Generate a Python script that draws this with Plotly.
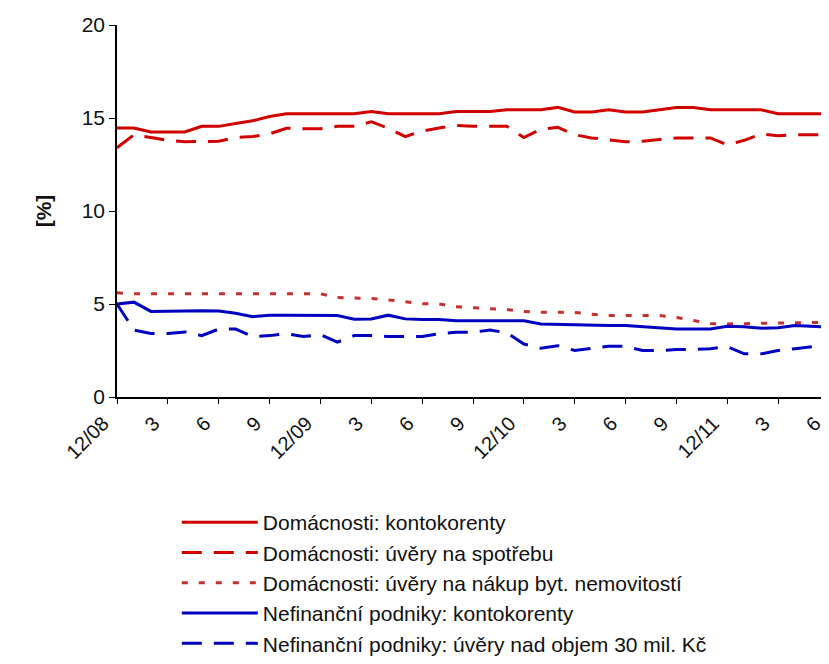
import plotly.graph_objects as go

# Monthly categories 12/08 .. 6/12
months = ["12/08"] + [f"{m}/09" for m in range(1, 13)] + [f"{m}/10" for m in range(1, 13)] \
         + [f"{m}/11" for m in range(1, 13)] + [f"{m}/12" for m in range(1, 7)]

tick_vals = ["12/08", "3/09", "6/09", "9/09", "12/09", "3/10", "6/10", "9/10",
             "12/10", "3/11", "6/11", "9/11", "12/11", "3/12", "6/12"]
tick_text = ["12/08", "3", "6", "9", "12/09", "3", "6", "9",
             "12/10", "3", "6", "9", "12/11", "3", "6"]

dom_kontokorenty = [14.46, 14.46, 14.25, 14.25, 14.25, 14.55, 14.55, 14.7, 14.85, 15.08,
                    15.23, 15.23, 15.23, 15.23, 15.23, 15.35, 15.23, 15.23, 15.23, 15.23,
                    15.35, 15.35, 15.35, 15.44, 15.44, 15.44, 15.57, 15.32, 15.32, 15.44,
                    15.32, 15.32, 15.44, 15.57, 15.57, 15.44, 15.44, 15.44, 15.44, 15.23,
                    15.23, 15.23, 15.23]

dom_spotreba = [13.4, 14.1, 13.95, 13.8, 13.72, 13.72, 13.75, 13.95, 14.0, 14.15,
                14.45, 14.42, 14.42, 14.55, 14.55, 14.8, 14.45, 14.0, 14.3, 14.46,
                14.6, 14.55, 14.55, 14.55, 13.95, 14.4, 14.5, 14.1, 13.93, 13.83,
                13.72, 13.75, 13.83, 13.93, 13.93, 13.93, 13.55, 13.8, 14.14, 14.05,
                14.1, 14.1, 14.1]

dom_bydleni = [5.6, 5.55, 5.55, 5.55, 5.55, 5.55, 5.55, 5.55, 5.55, 5.55,
               5.55, 5.55, 5.55, 5.35, 5.33, 5.3, 5.22, 5.1, 5.02, 5.0,
               4.85, 4.8, 4.75, 4.7, 4.6, 4.55, 4.55, 4.55, 4.45, 4.38,
               4.38, 4.4, 4.38, 4.28, 4.1, 3.95, 3.93, 3.95, 3.97, 4.0,
               4.02, 4.02, 4.02]

nfp_kontokorenty = [5.0, 5.1, 4.6, 4.62, 4.64, 4.64, 4.62, 4.5, 4.32, 4.4,
                    4.4, 4.4, 4.4, 4.38, 4.18, 4.2, 4.4, 4.2, 4.16, 4.16,
                    4.1, 4.1, 4.1, 4.1, 4.1, 3.92, 3.9, 3.85, 3.84, 3.84,
                    3.84, 3.78, 3.72, 3.66, 3.66, 3.66, 3.8, 3.78, 3.7, 3.72,
                    3.84, 3.78, 3.75]

nfp_nad30 = [5.0, 3.6, 3.42, 3.42, 3.5, 3.3, 3.65, 3.65, 3.25, 3.3,
             3.4, 3.25, 3.35, 2.95, 3.3, 3.3, 3.25, 3.25, 3.25, 3.4,
             3.48, 3.48, 3.6, 3.45, 2.85, 2.62, 2.76, 2.5, 2.6, 2.73,
             2.72, 2.5, 2.5, 2.55, 2.55, 2.6, 2.7, 2.32, 2.32, 2.5,
             2.6, 2.7, 2.8]

series_names = [
    "Domácnosti: kontokorenty",
    "Domácnosti: úvěry na spotřebu",
    "Domácnosti: úvěry na nákup byt. nemovitostí",
    "Nefinanční podniky: kontokorenty",
    "Nefinanční podniky: úvěry nad objem 30 mil. Kč",
]
series_values = [dom_kontokorenty, dom_spotreba, dom_bydleni, nfp_kontokorenty, nfp_nad30]

RED = "#D00000"
BLUE = "#0000C0"
styles = [
    dict(color=RED, width=3, dash="solid"),
    dict(color=RED, width=3, dash="20px,12px"),
    dict(color="#C83030", width=3, dash="6px,11px"),
    dict(color=BLUE, width=3, dash="solid"),
    dict(color=BLUE, width=3, dash="20px,12px"),
]

fig = go.Figure()
for name, vals, st in zip(series_names, series_values, styles):
    fig.add_trace(go.Scatter(x=months, y=vals, mode="lines", name=name, line=st))

FONT = "Liberation Sans, Arial, sans-serif"
FS = 21

fig.update_layout(
    width=821, height=656,
    paper_bgcolor="white", plot_bgcolor="white",
    margin=dict(l=109, r=0, t=17, b=266),
    font=dict(family=FONT, size=FS, color="#111111"),
    showlegend=True,
    legend=dict(
        x=0.084, y=-0.281, xanchor="left", yanchor="top",
        font=dict(family=FONT, size=FS, color="#111111"),
        bgcolor="rgba(0,0,0,0)", traceorder="normal", itemwidth=76,
    ),
    xaxis=dict(
        type="category", categoryorder="array", categoryarray=months,
        range=[0, 42], tickmode="array", tickvals=tick_vals, ticktext=tick_text,
        tickangle=-45, showline=True, linecolor="black", linewidth=1.5,
        ticks="outside", ticklen=5, tickcolor="black", showgrid=False, zeroline=False,
        ticklabelshift=-14,
        tickfont=dict(family=FONT, size=20, color="#111111"),
    ),
    yaxis=dict(
        range=[0, 20], tickvals=[0, 5, 10, 15, 20], showline=True, linecolor="black",
        linewidth=1.5, ticks="outside", ticklen=6, tickcolor="black", showgrid=False,
        zeroline=False, tickfont=dict(family=FONT, size=FS, color="#111111"),
        title=dict(text="<b>[%]</b>", font=dict(family=FONT, size=FS, color="#111111"),
                   standoff=24),
    ),
)

fig.write_html("out.html")
